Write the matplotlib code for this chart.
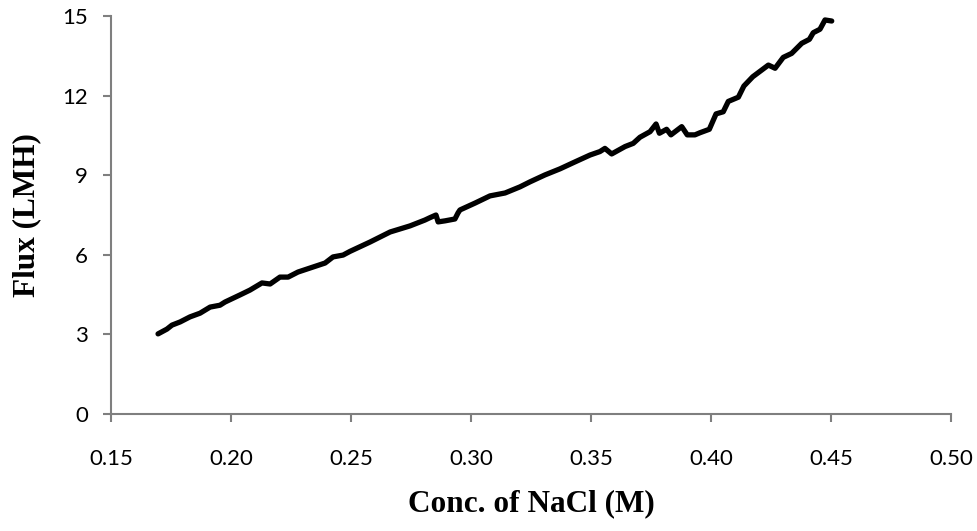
import matplotlib
matplotlib.use('Agg')
import matplotlib.pyplot as plt

# NaCl concentration (M) vs flux (LMH)
conc = [0.1696, 0.1733, 0.1754, 0.1788, 0.1829, 0.1871, 0.1913, 0.1954, 0.1975,
        0.2038, 0.2079, 0.2129, 0.2163, 0.2204, 0.2238, 0.2279, 0.2342, 0.2392,
        0.2425, 0.2467, 0.2496, 0.2579, 0.2663, 0.2746, 0.2808, 0.2829, 0.2854,
        0.2863, 0.2892, 0.2933, 0.2946, 0.2954, 0.3017, 0.3079, 0.3142, 0.3204,
        0.3246, 0.3308, 0.3371, 0.3433, 0.3496, 0.3537, 0.3558, 0.3586, 0.3642,
        0.3676, 0.3704, 0.3746, 0.3771, 0.3785, 0.3815, 0.3833, 0.3878, 0.3901,
        0.3933, 0.3954, 0.3993, 0.4021, 0.4051, 0.4072, 0.4114, 0.4137, 0.4174,
        0.4239, 0.4267, 0.4301, 0.4336, 0.4378, 0.4410, 0.4426, 0.4454, 0.4475,
        0.4503]
flux = [3.02, 3.20, 3.35, 3.47, 3.66, 3.80, 4.03, 4.10, 4.22,
        4.49, 4.67, 4.94, 4.90, 5.16, 5.16, 5.35, 5.54, 5.69,
        5.92, 5.99, 6.13, 6.48, 6.86, 7.09, 7.31, 7.40, 7.50,
        7.24, 7.28, 7.35, 7.58, 7.69, 7.95, 8.22, 8.33, 8.56,
        8.75, 9.01, 9.24, 9.50, 9.76, 9.89, 10.01, 9.80, 10.08,
        10.20, 10.43, 10.64, 10.93, 10.58, 10.73, 10.52, 10.83, 10.52,
        10.52, 10.60, 10.73, 11.31, 11.39, 11.78, 11.94, 12.36, 12.71,
        13.15, 13.03, 13.44, 13.59, 13.97, 14.12, 14.37, 14.50, 14.85,
        14.81]

xticks = [0.15, 0.20, 0.25, 0.30, 0.35, 0.40, 0.45, 0.50]
yticks = [0, 3, 6, 9, 12, 15]

fig = plt.figure(figsize=(9.78, 5.31), dpi=100)
ax = fig.add_axes([0.1135, 0.2203, 0.8589, 0.7496])

ax.plot(conc, flux, color='black', linewidth=3.8, solid_joinstyle='round',
        solid_capstyle='round')

ax.set_xlim(0.15, 0.50)
ax.set_ylim(0, 15)
ax.set_xticks(xticks)
ax.set_xticklabels(['%.2f' % v for v in xticks])
ax.set_yticks(yticks)

for s in ['top', 'right']:
    ax.spines[s].set_visible(False)
for s in ['left', 'bottom']:
    ax.spines[s].set_color('#7f7f7f')
    ax.spines[s].set_linewidth(1.5)

ax.tick_params(direction='out', length=5.5, width=1.5, color='#7f7f7f',
               labelsize=16, labelcolor='black')
ax.tick_params(axis='y', pad=11)
ax.tick_params(axis='x', pad=19.5)
for lab in ax.get_xticklabels() + ax.get_yticklabels():
    lab.set_family('Lato')

ax.set_xlabel('Conc. of NaCl (M)', family='Liberation Serif', fontweight='bold',
              fontsize=22.5, labelpad=15)
ax.set_ylabel('Flux (LMH)', family='Liberation Serif', fontweight='bold',
              fontsize=22.5, labelpad=15.5)

fig.savefig('out.png', dpi=100)
